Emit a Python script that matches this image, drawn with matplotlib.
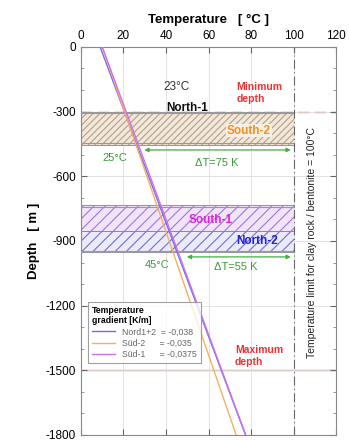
import numpy as np
import matplotlib.pyplot as plt
from matplotlib.patches import Rectangle

plt.rcParams['font.family'] = ['Liberation Sans', 'DejaVu Sans']
plt.rcParams['hatch.linewidth'] = 0.8
plt.rcParams['axes.unicode_minus'] = False

# temperature profiles (depth in m, T in degC)
depth = [0, -1800]
t_nord12 = [9.0, 77.4]
t_sud2 = [10.0, 73.0]
t_sud1 = [10.0, 77.5]
legend_labels = ['Nord1+2  = -0,038', 'Süd-2      = -0,035', 'Süd-1      = -0,0375']

# host rock layers (top, bottom depth)
north1_band = (-300, -455)
south1_band = (-733, -853)
north2_band = (-853, -953)
min_depth = -300
max_depth = -1500
t_limit = 100

x_ticks = [0, 20, 40, 60, 80, 100, 120]
y_ticks = [0, -300, -600, -900, -1200, -1500, -1800]

fig = plt.figure(figsize=(3.49, 4.40), dpi=100)
ax = fig.add_axes([0.232, 0.0114, 0.731, 0.882])

ax.set_xlim(0, 120)
ax.set_ylim(-1800, 0)
ax.xaxis.tick_top()
ax.xaxis.set_label_position('top')
ax.set_xticks(x_ticks)
ax.set_yticks(y_ticks)
ax.set_yticks(np.arange(-1800, 1, 100), minor=True)
ax.tick_params(axis='both', direction='in', labelsize=8.5, length=4,
               top=True, bottom=True, left=True, right=True, color='#666666')
ax.tick_params(axis='y', which='minor', direction='in', length=2, left=True, right=True, color='#888888')
ax.grid(True, color='#dddddd', linewidth=0.6)
for s in ax.spines.values():
    s.set_color('#888888')
    s.set_linewidth(0.8)

ax.set_xlabel('Temperature   [ °C ]', fontsize=9.5, fontweight='bold', labelpad=5)
ax.set_ylabel('Depth   [ m ]', fontsize=9.5, fontweight='bold', labelpad=4)

# red depth limits
ax.axhline(min_depth, color='#f07070', lw=1.0, ls=(0, (8, 4)), zorder=1)
ax.axhline(max_depth, color='#f07070', lw=1.0, zorder=1)

# layers
def band(top, bot, face, hatch_col, hatch):
    ax.add_patch(Rectangle((0, bot), t_limit, top - bot, facecolor=face,
                           edgecolor=hatch_col, hatch=hatch, lw=0, zorder=2))

band(north1_band[0], north1_band[1], '#f1e8dc', '#b8a080', '/////')
band(south1_band[0], south1_band[1], '#f3e2f8', '#9080d8', '///')
band(north2_band[0], north2_band[1], '#eaeaf8', '#7070c8', '///')
for top, bot in [north1_band, (south1_band[0], north2_band[1])]:
    for y in [top, top - 8, bot + 8, bot]:
        ax.plot([0, t_limit], [y, y], color='#999999', lw=0.8, zorder=3)
ax.plot([0, t_limit], [south1_band[1]] * 2, color='#888899', lw=0.7, zorder=3)

# temperature limit
ax.axvline(t_limit, color='#666666', lw=0.8, ls=(0, (8, 3, 1, 3)), zorder=3)
ax.text(108.7, -905, 'Temperature limit for clay rock / bentonite = 100°C', rotation=90,
        ha='center', va='center', fontsize=7.5, color='#222222')

# profiles
ax.plot(t_nord12, depth, color='#7070e8', lw=1.0, zorder=4, label=legend_labels[0])
ax.plot(t_sud2, depth, color='#f5b060', lw=1.0, zorder=4, label=legend_labels[1])
ax.plot(t_sud1, depth, color='#d070e8', lw=1.0, zorder=4, label=legend_labels[2])

# annotations
green = '#3a9a3a'
ax.annotate('', xy=(28.5, -478), xytext=(100, -478),
            arrowprops=dict(arrowstyle='<|-|>', color='#40b040', lw=0.9, mutation_scale=6), zorder=5)
ax.annotate('', xy=(48.5, -974), xytext=(100, -974),
            arrowprops=dict(arrowstyle='<|-|>', color='#40b040', lw=0.9, mutation_scale=6), zorder=5)
ax.text(16, -515, '25°C', color=green, fontsize=8, ha='center', va='center')
ax.text(64, -540, 'ΔT=75 K', color=green, fontsize=8, ha='center', va='center')
ax.text(36, -1012, '45°C', color=green, fontsize=8, ha='center', va='center')
ax.text(73, -1020, 'ΔT=55 K', color=green, fontsize=8, ha='center', va='center')

ax.text(45, -188, '23°C', color='#333333', fontsize=8.5, ha='center', va='center')
ax.text(50, -282, 'North-1', color='#111111', fontsize=8.5, fontweight='bold', ha='center', va='center', zorder=6)
ax.text(79, -388, 'South-2', color='#f09020', fontsize=8.5, fontweight='bold', ha='center', va='center', zorder=6,
        bbox=dict(facecolor='#f6efe6', edgecolor='none', pad=0.5))
ax.text(61, -803, 'South-1', color='#e020e0', fontsize=8.5, fontweight='bold', ha='center', va='center', zorder=6)
ax.text(83, -900, 'North-2', color='#2020e0', fontsize=8.5, fontweight='bold', ha='center', va='center', zorder=6)
ax.text(73, -215, 'Minimum\ndepth', color='#f03030', fontsize=7.5, fontweight='bold', ha='left', va='center',
        linespacing=1.3)
ax.text(72.5, -1435, 'Maximum\ndepth', color='#f03030', fontsize=7.5, fontweight='bold', ha='left', va='center',
        linespacing=1.3)

leg = ax.legend(loc='upper left', bbox_to_anchor=(0.01, 0.355), fontsize=6.3, frameon=True, fancybox=False,
                title='Temperature\ngradient [K/m]', title_fontsize=6.3, alignment='left',
                handlelength=2.6, borderpad=0.5, labelspacing=0.25)
leg.get_frame().set_edgecolor('#888888')
leg.get_frame().set_linewidth(0.8)
leg.get_title().set_fontweight('bold')
for t in leg.get_texts():
    t.set_color('#666666')
leg.set_zorder(7)

fig.savefig('out.png', dpi=100)
